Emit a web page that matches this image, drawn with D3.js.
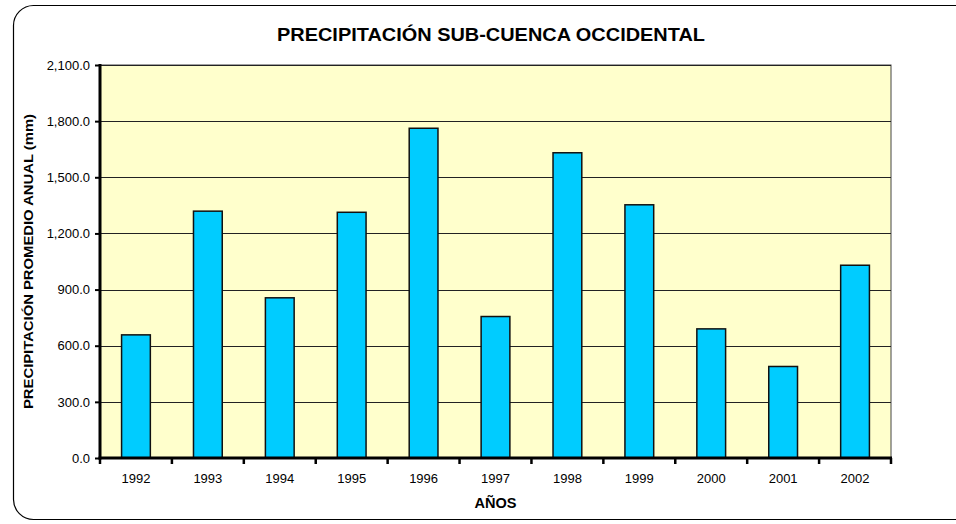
<!DOCTYPE html>
<html>
<head>
<meta charset="utf-8">
<script src="https://cdn.jsdelivr.net/npm/d3@7"></script>
<style>
  body { margin: 0; background: #fff; }
  text { font-family: Arial, "Liberation Sans", sans-serif; fill: #000; }
</style>
</head>
<body>
<div id="viz"></div>
<script>
// years and annual mean precipitation (mm)
const years = ['1992', '1993', '1994', '1995', '1996', '1997', '1998', '1999', '2000', '2001', '2002'];
const precip = [658, 1319, 856, 1313, 1762, 756, 1631, 1353, 690, 489, 1030];
const yTicks = [0, 300, 600, 900, 1200, 1500, 1800, 2100];

const title = 'PRECIPITACIÓN SUB-CUENCA OCCIDENTAL';
const yTitle = 'PRECIPITACIÓN PROMEDIO ANUAL (mm)';
const xTitle = 'AÑOS';

const dimensions = {
    width: 956,
    height: 524,
    margins: { top: 65, right: 65, bottom: 66, left: 100 }
};
dimensions.boundedWidth = dimensions.width - dimensions.margins.left - dimensions.margins.right;
dimensions.boundedHeight = dimensions.height - dimensions.margins.top - dimensions.margins.bottom;

const svg = d3.select('#viz').append('svg')
    .attr('width', dimensions.width)
    .attr('height', dimensions.height);

// outer rounded frame (runs off the right edge in the original)
svg.append('rect')
    .attr('x', 13.5).attr('y', 5.5)
    .attr('width', 980).attr('height', 514)
    .attr('rx', 20)
    .attr('fill', '#fff')
    .attr('stroke', '#000')
    .attr('stroke-width', 1.2);

svg.append('text')
    .attr('x', 491).attr('y', 41)
    .attr('text-anchor', 'middle')
    .attr('textLength', 428)
    .attr('lengthAdjust', 'spacingAndGlyphs')
    .style('font-size', '18px')
    .style('font-weight', 'bold')
    .text(title);

const bounds = svg.append('g')
    .attr('transform', `translate(${dimensions.margins.left},${dimensions.margins.top})`);

const xScale = d3.scaleBand()
    .domain(years)
    .range([0, dimensions.boundedWidth]);

const yScale = d3.scaleLinear()
    .domain([0, 2100])
    .range([dimensions.boundedHeight, 0]);

// plot area
bounds.append('rect')
    .attr('width', dimensions.boundedWidth)
    .attr('height', dimensions.boundedHeight)
    .attr('fill', '#ffffcc')
    .attr('stroke', '#444')
    .attr('stroke-width', 1);

// gridlines
bounds.append('g')
    .selectAll('line')
    .data(yTicks.slice(1))
    .join('line')
        .attr('x1', 0).attr('x2', dimensions.boundedWidth)
        .attr('y1', d => Math.round(yScale(d)) + 0.5)
        .attr('y2', d => Math.round(yScale(d)) + 0.5)
        .attr('stroke', '#222')
        .attr('stroke-width', 1);

// bars
const barW = xScale.bandwidth() * 0.4;
bounds.append('g')
    .selectAll('rect')
    .data(precip)
    .join('rect')
        .attr('x', (d, i) => xScale(years[i]) + (xScale.bandwidth() - barW) / 2)
        .attr('y', d => yScale(d))
        .attr('width', barW)
        .attr('height', d => yScale(0) - yScale(d))
        .attr('fill', '#00ccff')
        .attr('stroke', '#111')
        .attr('stroke-width', 1.5);

// y axis
const yAxis = d3.axisLeft(yScale)
    .tickValues(yTicks)
    .tickSize(5)
    .tickPadding(5)
    .tickFormat(d3.format(',.1f'));

const yAxisG = bounds.append('g').call(yAxis);
yAxisG.select('.domain').remove();
yAxisG.selectAll('.tick line').attr('stroke', '#000').attr('stroke-width', 2);
yAxisG.selectAll('.tick text').style('font-size', '13px').style('font-family', 'Arial, "Liberation Sans", sans-serif');
yAxisG.append('line')
    .attr('x1', 0).attr('x2', 0)
    .attr('y1', -1).attr('y2', dimensions.boundedHeight + 1.5)
    .attr('stroke', '#000').attr('stroke-width', 3);

// x axis: ticks on category boundaries, labels centred in bands
const xAxisG = bounds.append('g')
    .attr('transform', `translate(0,${dimensions.boundedHeight})`);
xAxisG.append('line')
    .attr('x1', -1.5).attr('x2', dimensions.boundedWidth + 1)
    .attr('stroke', '#000').attr('stroke-width', 3);
xAxisG.selectAll('.bound')
    .data(years.concat(['end']))
    .join('line')
        .attr('class', 'bound')
        .attr('x1', (d, i) => i * xScale.step())
        .attr('x2', (d, i) => i * xScale.step())
        .attr('y1', 0).attr('y2', 6)
        .attr('stroke', '#000').attr('stroke-width', 2.5);
xAxisG.selectAll('.lbl')
    .data(years)
    .join('text')
        .attr('class', 'lbl')
        .attr('x', d => xScale(d) + xScale.bandwidth() / 2)
        .attr('y', 25)
        .attr('text-anchor', 'middle')
        .style('font-size', '13px')
        .text(d => d);

// axis titles
svg.append('text')
    .attr('x', dimensions.margins.left + dimensions.boundedWidth / 2)
    .attr('y', 508)
    .attr('text-anchor', 'middle')
    .attr('textLength', 42)
    .attr('lengthAdjust', 'spacingAndGlyphs')
    .style('font-size', '14px')
    .style('font-weight', 'bold')
    .text(xTitle);

svg.append('text')
    .attr('transform', `translate(33,${dimensions.margins.top + dimensions.boundedHeight / 2}) rotate(-90)`)
    .attr('text-anchor', 'middle')
    .attr('textLength', 295)
    .attr('lengthAdjust', 'spacingAndGlyphs')
    .style('font-size', '13px')
    .style('font-weight', 'bold')
    .text(yTitle);
</script>
</body>
</html>
